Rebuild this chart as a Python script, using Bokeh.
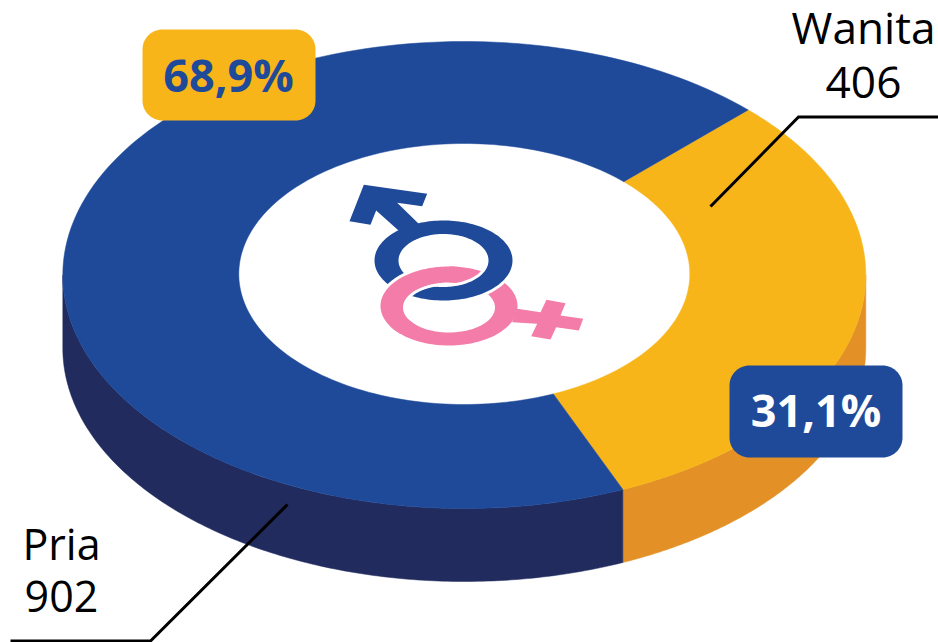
import numpy as np
from bokeh.plotting import figure
from bokeh.models import Range1d
from bokeh.core.properties import value
from bokeh.embed import file_html
from bokeh.resources import INLINE

categories = ["Wanita", "Pria"]
counts = [406, 902]
percent_labels = ["31,1%", "68,9%"]
top_colors = ["#F7B519", "#1F4A9A"]
side_colors = ["#E39126", "#212B5E"]

W, H = 938, 642
FONT = value("Open Sans")
p = figure(width=W, height=H, output_backend="svg", toolbar_location=None,
           x_range=Range1d(0, W), y_range=Range1d(H, 0),
           min_border=0, outline_line_color=None, background_fill_color="white")
p.axis.visible = False
p.grid.visible = False


def arc(cx, cy, rx, ry, a0, a1, n=160):
    """Elliptical arc; angles in degrees, measured clockwise on screen from 3 o'clock."""
    t = np.radians(np.linspace(a0, a1, n))
    return cx + rx * np.cos(t), cy + ry * np.sin(t)


def ring(cx, cy, rxo, ryo, rxi, ryi, a0, a1, cyi=None):
    xo, yo = arc(cx, cy, rxo, ryo, a0, a1)
    xi, yi = arc(cx, cy if cyi is None else cyi, rxi, ryi, a1, a0)
    return np.r_[xo, xi], np.r_[yo, yi]


def rounded(x0, y0, x1, y1, r):
    xs, ys = [], []
    for cx, cy, a in [(x1 - r, y0 + r, -90), (x1 - r, y1 - r, 0), (x0 + r, y1 - r, 90), (x0 + r, y0 + r, 180)]:
        ax, ay = arc(cx, cy, r, r, a, a + 90, 16)
        xs += list(ax)
        ys += list(ay)
    return xs, ys


# --- donut, slices swept from the counts ---
CX, CY, RX, RY = 463.8, 274.5, 401.5, 233.5
CYI, RXI, RYI = 273.5, 225.5, 130.5
DEPTH = 73
total = sum(counts)
start = -45.0
angles = []
for c in counts:
    sweep = c / total * 360
    angles.append((start, start + sweep))
    start += sweep

for (a0, a1), col in zip(angles, side_colors):
    # the visible wall is the lower half of the ellipse (0..180 deg)
    for lo, hi in [(a0, a1), (a0 - 360, a1 - 360)]:
        lo2, hi2 = max(lo, 0), min(hi, 180)
        if hi2 > lo2:
            x, y = arc(CX, CY, RX, RY, lo2, hi2)
            p.patch(np.r_[x, x[::-1]], np.r_[y, y[::-1] + DEPTH], fill_color=col, line_color=col, line_width=0.5)

for (a0, a1), col in zip(angles, top_colors):
    x, y = ring(CX, CY, RX, RY, RXI, RYI, a0, a1, CYI)
    p.patch(x, y, fill_color=col, line_color=col, line_width=0.5)

# --- gender symbols ---
BLUE, PINK = "#1F4A9A", "#F47CA9"
def z(pts):
    return [330 + a / 3 for a, _ in pts], [170 + b / 3 for _, b in pts]

BC = (443, 260, 69, 40, 45, 26.5)
PC = (448.5, 305.5, 68.5, 39.5, 46, 25)
cross = [(560, 415), (630, 425), (648, 388), (705, 398), (690, 435), (758, 445), (745, 480), (677, 470),
         (660, 507), (602, 497), (620, 460), (545, 455)]
arrow = [(100, 43), (290, 70), (275, 107), (200, 97), (270, 165), (215, 190), (137, 120), (120, 163), (57, 152)]

x, y = z(cross)
p.patch(x, y, fill_color=PINK, line_color=None)
x, y = ring(PC[0], PC[1], PC[2], PC[3], PC[4], PC[5], 0, 360, PC[1] + 1.5)
p.patch(x, y, fill_color=PINK, line_color=None)

x, y = ring(BC[0], BC[1], BC[2] + 3, BC[3] + 3, BC[4] - 3, BC[5] - 3, 0, 360)
p.patch(x, y, fill_color="white", line_color=None)
x, y = z(arrow)
p.patch(x, y, fill_color=BLUE, line_color=None)
x, y = ring(BC[0], BC[1], BC[2], BC[3], BC[4], BC[5], 0, 360)
p.patch(x, y, fill_color=BLUE, line_color=None)

x, y = ring(PC[0], PC[1], PC[2] + 3, PC[3] + 3, PC[4] - 3, PC[5] - 3, 150, 270, PC[1] + 1.5)
p.patch(x, y, fill_color="white", line_color=None)
x, y = ring(PC[0], PC[1], PC[2], PC[3], PC[4], PC[5], 135, 280, PC[1] + 1.5)
p.patch(x, y, fill_color=PINK, line_color=None)

# --- leader lines ---
p.line([710, 798, 938], [206, 116.5, 116.5], line_color="black", line_width=3, line_join="miter")
p.line([287, 150, 10], [504, 640.5, 640.5], line_color="black", line_width=3, line_join="miter")

# --- percent badges ---
x, y = rounded(729, 365, 902, 457, 20)
p.patch(x, y, fill_color=top_colors[1], line_color=None)
x, y = rounded(142, 29, 315, 120, 20)
p.patch(x, y, fill_color=top_colors[0], line_color=None)
p.text([815.5], [409], text=[percent_labels[0]], text_font=FONT, text_font_size="45px", text_font_style="bold",
       text_color="white", text_align="center", text_baseline="middle")
p.text([228], [74], text=[percent_labels[1]], text_font=FONT, text_font_size="45px", text_font_style="bold",
       text_color=top_colors[1], text_align="center", text_baseline="middle")

# --- labels ---
p.text([935], [26.5], text=[categories[0]], text_font=FONT, text_font_size="44.2px", text_color="black",
       text_align="right", text_baseline="middle")
p.text([863], [82], text=[str(counts[0])], text_font=FONT, text_font_size="44.2px", text_color="black",
       text_align="center", text_baseline="middle")
p.text([61], [543], text=[categories[1]], text_font=FONT, text_font_size="43px", text_color="black",
       text_align="center", text_baseline="middle")
p.text([61], [596], text=[str(counts[1])], text_font=FONT, text_font_size="43px", text_color="black",
       text_align="center", text_baseline="middle")

open("out.html", "w").write(file_html(p, INLINE))
